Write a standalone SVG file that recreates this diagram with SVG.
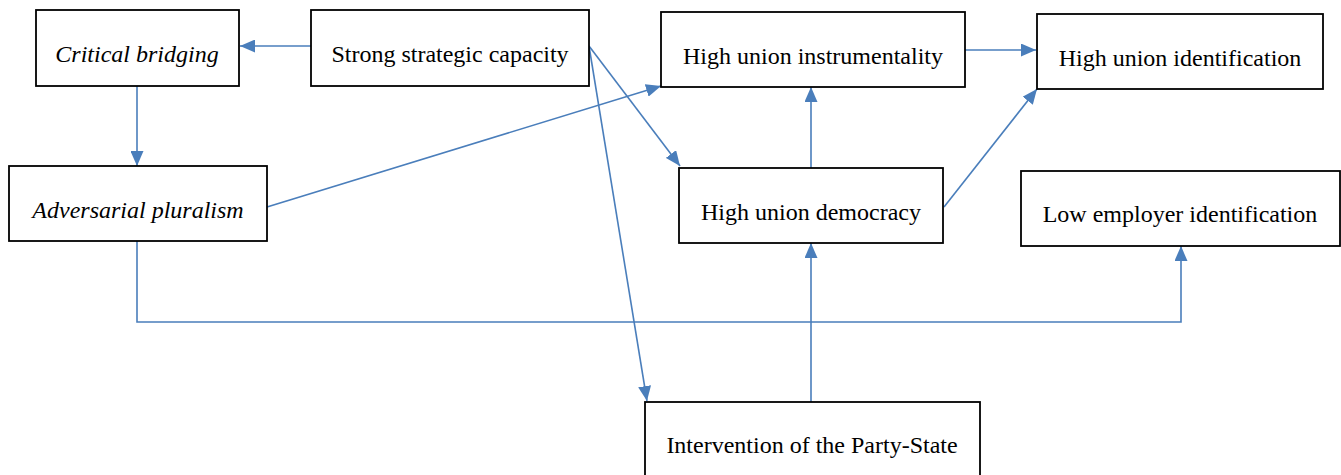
<svg xmlns="http://www.w3.org/2000/svg" width="1341" height="475" viewBox="0 0 1341 475">
  <style>
    .box { fill: #ffffff; stroke: #000000; stroke-width: 1.8; }
    .lbl { font-family: "Liberation Serif", "Times New Roman", serif; font-size: 24px; fill: #000000; text-anchor: middle; }
    .it { font-style: italic; }
    .edge { fill: none; stroke: #4a7ebb; stroke-width: 1.6; }
  </style>
  <defs>
    <marker id="arrow" viewBox="0 0 15 13" refX="15" refY="6.5" markerWidth="15" markerHeight="13" markerUnits="userSpaceOnUse" orient="auto">
      <path d="M0,0 L15,6.5 L0,13 z" fill="#4a7ebb"/>
    </marker>
  </defs>
  <rect width="1341" height="475" fill="#ffffff"/>

  <g id="connectors">
    <line class="edge" x1="311" y1="46" x2="240" y2="46" marker-end="url(#arrow)"/>
    <line class="edge" x1="137" y1="86" x2="137" y2="166" marker-end="url(#arrow)"/>
    <line class="edge" x1="267" y1="207" x2="661" y2="86" marker-end="url(#arrow)"/>
    <line class="edge" x1="589" y1="46" x2="680" y2="166" marker-end="url(#arrow)"/>
    <line class="edge" x1="589" y1="46" x2="647" y2="401" marker-end="url(#arrow)"/>
    <line class="edge" x1="965" y1="50" x2="1036" y2="50" marker-end="url(#arrow)"/>
    <line class="edge" x1="811" y1="168" x2="811" y2="87" marker-end="url(#arrow)"/>
    <line class="edge" x1="944" y1="207" x2="1037" y2="89" marker-end="url(#arrow)"/>
    <line class="edge" x1="811" y1="402" x2="811" y2="243" marker-end="url(#arrow)"/>
    <polyline class="edge" points="137,241 137,322 1181,322 1181,246" marker-end="url(#arrow)"/>
  </g>

  <g id="critical-bridging">
    <rect class="box" x="36" y="10" width="203" height="76"/>
    <text class="lbl it" x="137" y="62">Critical bridging</text>
  </g>
  <g id="strong-strategic-capacity">
    <rect class="box" x="311" y="10" width="278" height="76"/>
    <text class="lbl" x="450" y="62">Strong strategic capacity</text>
  </g>
  <g id="high-union-instrumentality">
    <rect class="box" x="661" y="12" width="304" height="75"/>
    <text class="lbl" x="813" y="64">High union instrumentality</text>
  </g>
  <g id="high-union-identification">
    <rect class="box" x="1037" y="14" width="286" height="75"/>
    <text class="lbl" x="1180" y="66">High union identification</text>
  </g>
  <g id="adversarial-pluralism">
    <rect class="box" x="9" y="166" width="258" height="75"/>
    <text class="lbl it" x="138" y="218">Adversarial pluralism</text>
  </g>
  <g id="high-union-democracy">
    <rect class="box" x="679" y="168" width="264" height="75"/>
    <text class="lbl" x="811" y="220">High union democracy</text>
  </g>
  <g id="low-employer-identification">
    <rect class="box" x="1021" y="171" width="319" height="75"/>
    <text class="lbl" x="1180" y="222">Low employer identification</text>
  </g>
  <g id="party-state-intervention">
    <rect class="box" x="645" y="402" width="335" height="80"/>
    <text class="lbl" x="812" y="453">Intervention of the Party-State</text>
  </g>
</svg>
